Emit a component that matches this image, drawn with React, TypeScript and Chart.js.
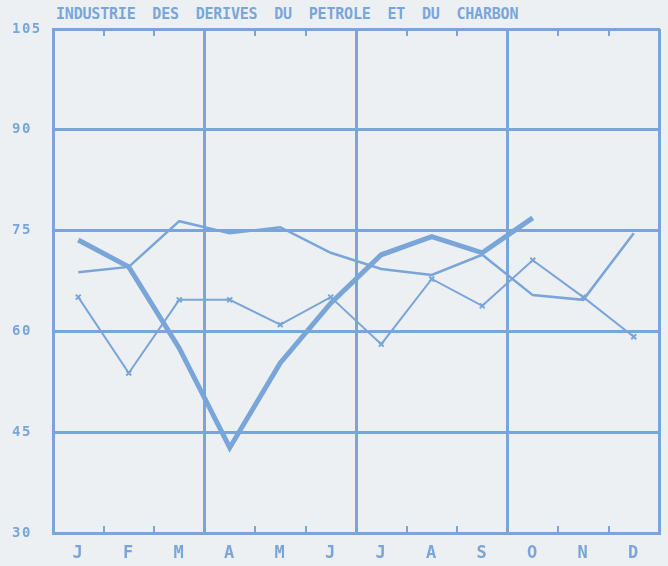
import React, { useEffect, useRef } from 'react';
import { Chart, registerables } from 'chart.js';

Chart.register(...registerables);

const months = ['J', 'F', 'M', 'A', 'M', 'J', 'J', 'A', 'S', 'O', 'N', 'D'];
const yMin = 30;
const yMax = 105;
const yStep = 15;
const titleText = 'INDUSTRIE DES DERIVES DU PETROLE ET DU CHARBON';

const seriesThick = [73.6, 69.6, 57.5, 42.7, 55.3, 64.2, 71.4, 74.1, 71.7, 76.9, null, null];
const seriesPlain = [68.8, 69.6, 76.4, 74.6, 75.5, 71.7, 69.3, 68.4, 71.4, 65.4, 64.7, 74.6];
const seriesCross = [65.1, 53.8, 64.7, 64.7, 61.0, 65.1, 58.1, 67.8, 63.8, 70.6, 65.1, 59.2];

const BLUE = '#79a5d8';
const BG = '#edf0f2';
const FONT = "'DejaVu Sans Mono', monospace";

const spacingPlugin = {
  id: 'letterSpacing',
  beforeLayout(chart: any) {
    chart.ctx.letterSpacing = '1.5px';
  },
  beforeDraw(chart: any) {
    chart.ctx.letterSpacing = '1.5px';
  },
};

export default function App() {
  const ref = useRef<HTMLCanvasElement | null>(null);

  useEffect(() => {
    if (!ref.current) return;
    const chart = new Chart(ref.current, {
      type: 'line',
      data: {
        labels: months,
        datasets: [
          {
            data: seriesThick,
            borderColor: BLUE,
            borderWidth: 5,
            pointRadius: 0,
            tension: 0,
            spanGaps: false,
          },
          {
            data: seriesPlain,
            borderColor: BLUE,
            borderWidth: 2.5,
            pointRadius: 0,
            tension: 0,
          },
          {
            data: seriesCross,
            borderColor: BLUE,
            borderWidth: 2,
            pointStyle: 'crossRot',
            pointRadius: 3.5,
            pointBorderWidth: 2,
            pointBorderColor: BLUE,
            tension: 0,
          },
        ],
      },
      options: {
        responsive: false,
        animation: false,
        layout: { padding: { top: 29, right: 9, left: 12, bottom: 0 } },
        plugins: {
          legend: { display: false },
          tooltip: { enabled: false },
          title: { display: false },
        },
        scales: {
          x: {
            type: 'category',
            position: 'bottom',
            offset: true,
            grid: {
              offset: true,
              color: BLUE,
              lineWidth: (ctx: any) =>
                ctx.index === undefined || ctx.index % 3 === 0 ? 3 : 0,
              drawTicks: true,
              tickLength: -7,
              tickWidth: 2,
              tickColor: BLUE,
            },
            border: { display: true, color: BLUE, width: 3 },
            ticks: {
              color: BLUE,
              font: { family: FONT, size: 17, weight: 'bold' },
              padding: 17,
              maxRotation: 0,
              autoSkip: false,
            },
            afterFit: (s: any) => {
              s.height = 33;
            },
          },
          x2: {
            type: 'category',
            position: 'top',
            labels: months,
            offset: true,
            grid: {
              offset: true,
              drawOnChartArea: false,
              drawTicks: true,
              tickLength: -7,
              tickWidth: 2,
              tickColor: BLUE,
              color: BLUE,
              lineWidth: 0,
            },
            border: { display: true, color: BLUE, width: 3 },
            ticks: { display: false },
            afterFit: (s: any) => {
              s.height = 0;
            },
          },
          y: {
            min: yMin,
            max: yMax,
            ticks: {
              stepSize: yStep,
              color: BLUE,
              font: { family: FONT, size: 14, weight: 'bold' },
              padding: 8,
              crossAlign: 'far',
            },
            grid: { color: BLUE, lineWidth: 3, drawTicks: false },
            border: { display: true, color: BLUE, width: 3 },
            afterFit: (s: any) => {
              s.width = 41;
            },
          },
        },
      } as any,
      plugins: [spacingPlugin],
    });
    return () => chart.destroy();
  }, []);

  return (
    <div
      style={{
        position: 'absolute',
        left: 0,
        top: 0,
        width: 668,
        height: 566,
        background: BG,
        overflow: 'hidden',
      }}
    >
      <div
        style={{
          position: 'absolute',
          left: 56,
          top: 4,
          fontFamily: FONT,
          fontWeight: 'bold',
          fontSize: 15,
          letterSpacing: '-0.2px',
          wordSpacing: '8px',
          color: BLUE,
          whiteSpace: 'nowrap',
          lineHeight: '20px',
        }}
      >
        {titleText}
      </div>
      <canvas
        ref={ref}
        width={668}
        height={566}
        style={{ position: 'absolute', left: 0, top: 0 }}
      />
    </div>
  );
}
